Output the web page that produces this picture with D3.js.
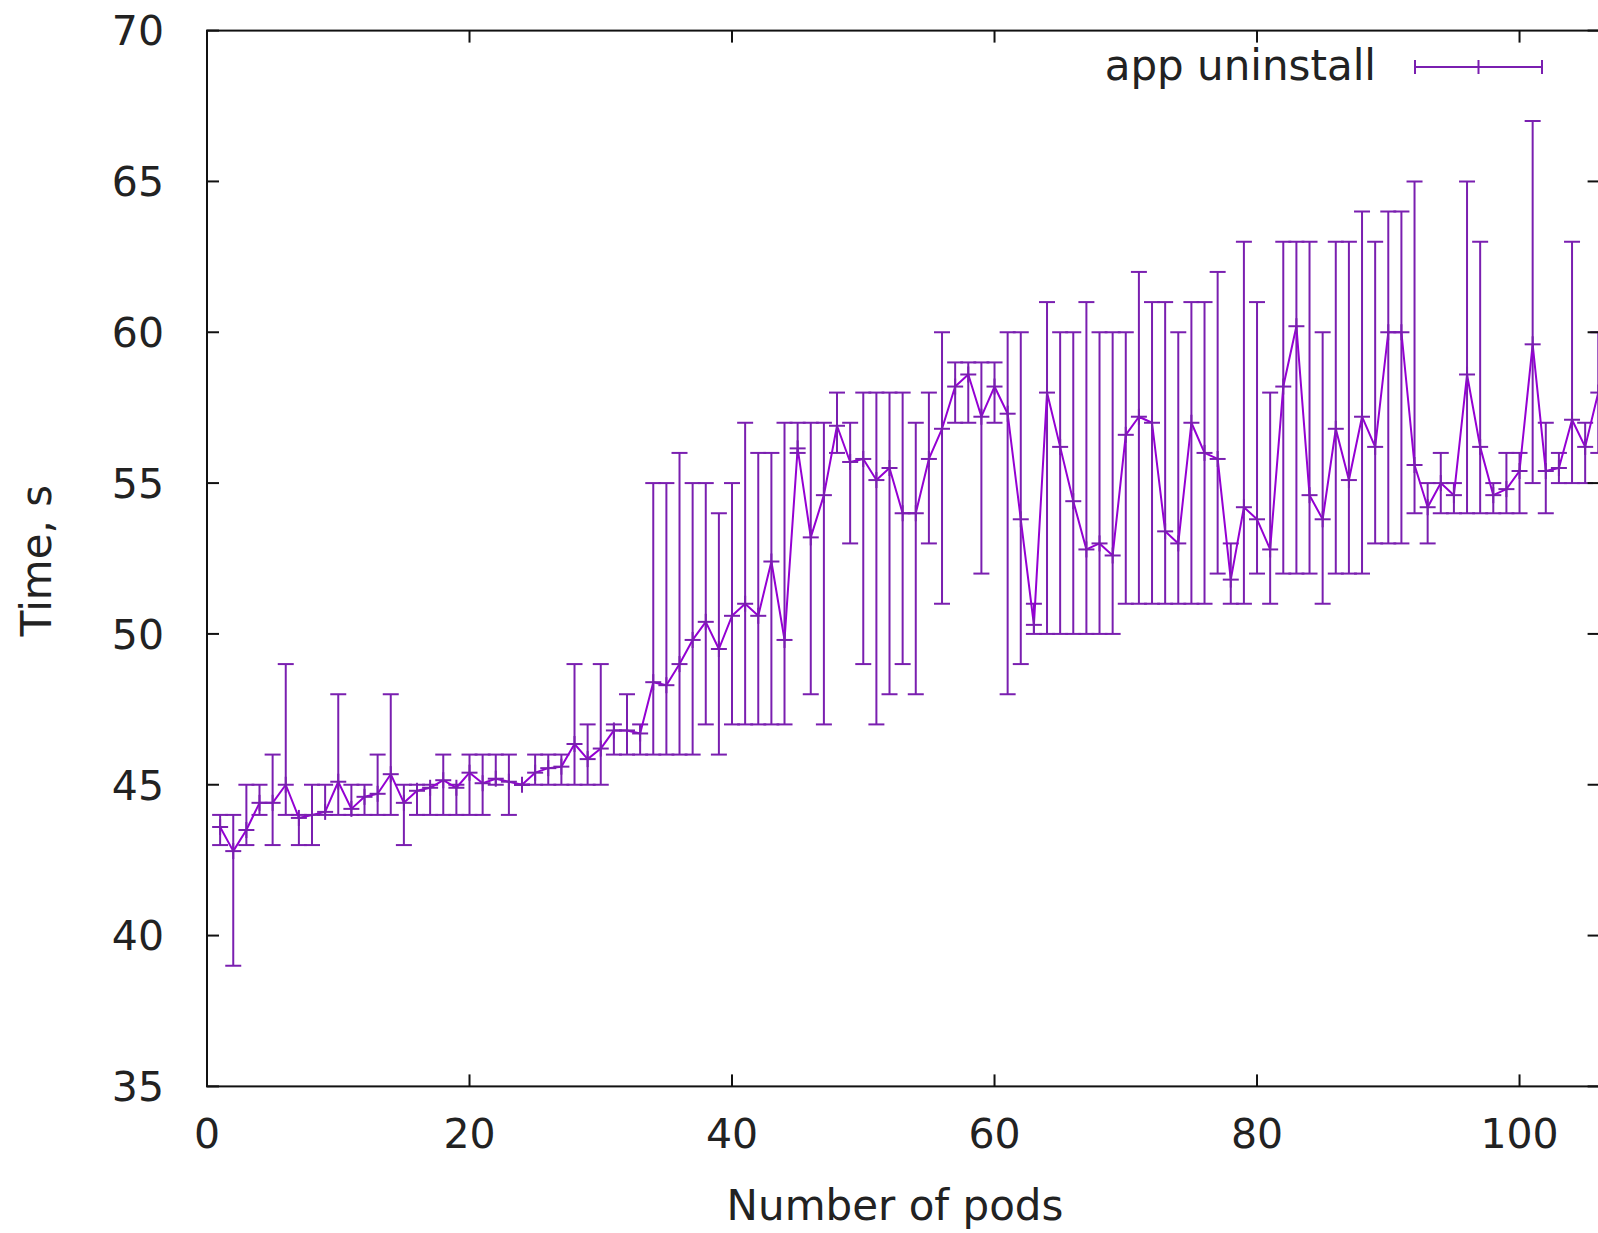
<!DOCTYPE html>
<html>
<head>
<meta charset="utf-8">
<script src="https://cdn.jsdelivr.net/npm/d3@7"></script>
<style>
  html, body { margin: 0; padding: 0; background: #fff; }
  svg { display: block; }
  text { font-family: "DejaVu Sans", sans-serif; fill: #222; }
</style>
</head>
<body>
<script>
// ---- data ----
const pods = [1,2,3,4,5,6,7,8,9,10,11,12,13,14,15,16,17,18,19,20,21,22,23,24,25,26,27,28,29,30,
  31,32,33,34,35,36,37,38,39,40,41,42,43,44,45,46,47,48,49,50,51,52,53,54,55,56,57,58,59,60,
  61,62,63,64,65,66,67,68,69,70,71,72,73,74,75,76,77,78,79,80,81,82,83,84,85,86,87,88,89,90,
  91,92,93,94,95,96,97,98,99,100,101,102,103,104,105,106];
const meanTime = [43.6,42.8,43.5,44.4,44.4,45.0,43.9,44.0,44.1,45.1,44.2,44.6,44.7,45.35,44.4,44.8,44.9,45.15,44.9,45.4,
  45.05,45.2,45.1,45.0,45.4,45.55,45.6,46.35,45.85,46.2,46.8,46.8,46.7,48.4,48.3,49.0,49.8,50.4,49.5,50.6,
  51.0,50.6,52.4,49.8,56.15,53.2,54.6,56.9,55.7,55.8,55.1,55.5,54.0,54.0,55.8,56.8,58.2,58.6,57.2,58.2,
  57.3,53.8,50.3,58.0,56.2,54.4,52.8,53.0,52.6,56.6,57.2,57.0,53.4,53.0,57.0,56.0,55.8,51.8,54.2,53.8,
  52.8,58.2,60.2,54.6,53.8,56.8,55.1,57.2,56.2,60.0,60.0,55.6,54.2,55.0,54.6,58.6,56.2,54.6,54.8,55.4,
  59.6,55.4,55.5,57.1,56.2,58.0];
const minTime = [43,39,43,44,43,44,43,43,44,44,44,44,44,44,43,44,44,44,44,44,
  44,45,44,45,45,45,45,45,45,45,46,46,46,46,46,46,46,47,46,47,
  47,47,47,47,56,48,47,56,53,49,47,48,49,48,53,51,57,57,52,57,
  48,49,50,50,50,50,50,50,50,51,51,51,51,51,51,51,52,51,51,52,
  51,52,52,52,51,52,52,52,53,53,53,54,53,54,54,54,54,54,54,54,
  55,54,55,55,55,56];
const maxTime = [44,44,45,45,46,49,44,45,45,48,45,45,46,48,45,45,45,46,45,46,
  46,46,46,45,46,46,46,49,47,49,47,48,47,55,55,56,55,55,54,55,
  57,56,56,57,57,57,57,58,57,58,58,58,58,57,58,60,59,59,59,59,
  60,60,51,61,60,60,61,60,60,60,62,61,61,60,61,61,62,53,63,61,
  58,63,63,63,60,63,63,64,63,64,64,65,55,56,55,65,63,55,56,56,
  67,57,56,63,57,60];
const yTicks = [35,40,45,50,55,60,65,70];
const xTicks = [0,20,40,60,80,100];
const seriesName = "app uninstall";
const xTitle = "Number of pods";
const yTitle = "Time, s";

(function () {
// ---- layout ----
const W = 1598, H = 1233;
const pL = 207, pR = 1599.6, pT = 30.6, pB = 1086.4;
const lineColor = "#9400d3";
const barColor = "#7a1fb0";

const data = pods.map((p, i) => ({ x: p, m: meanTime[i], lo: minTime[i], hi: maxTime[i] }));

const x = d3.scaleLinear().domain([0, 106.1]).range([pL, pR]);
const y = d3.scaleLinear().domain([35, 70]).range([pB, pT]);

const svg = d3.select("body").append("svg")
  .attr("width", W).attr("height", H)
  .attr("viewBox", `0 0 ${W} ${H}`);
svg.append("rect").attr("width", W).attr("height", H).attr("fill", "#fff");

svg.append("clipPath").attr("id", "plotclip")
  .append("rect").attr("x", pL).attr("y", pT).attr("width", pR - pL).attr("height", pB - pT);

const marks = svg.append("g").attr("clip-path", "url(#plotclip)");

// error bars
const capW = 8;
const eb = marks.append("g").attr("stroke", barColor).attr("stroke-width", 2).attr("fill", "none");
eb.selectAll("line.v").data(data).join("line").attr("class", "v")
  .attr("x1", d => x(d.x)).attr("x2", d => x(d.x))
  .attr("y1", d => y(d.lo)).attr("y2", d => y(d.hi));
eb.selectAll("line.t").data(data).join("line").attr("class", "t")
  .attr("x1", d => x(d.x) - capW).attr("x2", d => x(d.x) + capW)
  .attr("y1", d => y(d.hi)).attr("y2", d => y(d.hi));
eb.selectAll("line.b").data(data).join("line").attr("class", "b")
  .attr("x1", d => x(d.x) - capW).attr("x2", d => x(d.x) + capW)
  .attr("y1", d => y(d.lo)).attr("y2", d => y(d.lo));

// mean line
const line = d3.line().x(d => x(d.x)).y(d => y(d.m));
marks.append("path").datum(data)
  .attr("d", line).attr("fill", "none")
  .attr("stroke", lineColor).attr("stroke-width", 2).attr("stroke-linejoin", "round");

// point markers (+)
const pm = marks.append("g").attr("stroke", barColor).attr("stroke-width", 2);
pm.selectAll("line.h").data(data).join("line").attr("class", "h")
  .attr("x1", d => x(d.x) - capW).attr("x2", d => x(d.x) + capW)
  .attr("y1", d => y(d.m)).attr("y2", d => y(d.m));
pm.selectAll("line.vv").data(data).join("line").attr("class", "vv")
  .attr("x1", d => x(d.x)).attr("x2", d => x(d.x))
  .attr("y1", d => y(d.m) - capW).attr("y2", d => y(d.m) + capW);

// ---- axes (gnuplot style: inward ticks on all sides) ----
const tickLen = 12;
const axisColor = "#111";
const ax = svg.append("g").attr("stroke", axisColor).attr("stroke-width", 2);
ax.selectAll("line.yl").data(yTicks).join("line").attr("class", "yl")
  .attr("x1", pL).attr("x2", pL + tickLen).attr("y1", d => y(d)).attr("y2", d => y(d));
ax.selectAll("line.yr").data(yTicks).join("line").attr("class", "yr")
  .attr("x1", pR - tickLen).attr("x2", pR).attr("y1", d => y(d)).attr("y2", d => y(d));
ax.selectAll("line.xb").data(xTicks).join("line").attr("class", "xb")
  .attr("x1", d => x(d)).attr("x2", d => x(d)).attr("y1", pB).attr("y2", pB - tickLen);
ax.selectAll("line.xt").data(xTicks).join("line").attr("class", "xt")
  .attr("x1", d => x(d)).attr("x2", d => x(d)).attr("y1", pT).attr("y2", pT + tickLen);
ax.append("rect").attr("x", pL).attr("y", pT)
  .attr("width", pR - pL).attr("height", pB - pT).attr("fill", "none");

// tick labels
const fsTick = 41, fsTitle = 42;
svg.append("g").selectAll("text").data(yTicks).join("text")
  .attr("x", pL - 43).attr("y", d => y(d)).attr("dy", "0.36em")
  .attr("text-anchor", "end").attr("font-size", fsTick).text(d => d);
svg.append("g").selectAll("text").data(xTicks).join("text")
  .attr("x", d => x(d)).attr("y", 1133).attr("dy", "0.36em")
  .attr("text-anchor", "middle").attr("font-size", fsTick).text(d => d);

// titles
svg.append("text").attr("x", 895).attr("y", 1205).attr("dy", "0.36em")
  .attr("text-anchor", "middle").attr("font-size", fsTitle).text(xTitle);
svg.append("text").attr("transform", `translate(36,${(pT + pB) / 2 + 2}) rotate(-90)`)
  .attr("dy", "0.36em").attr("text-anchor", "middle").attr("font-size", fsTitle).text(yTitle);

// legend
const lg = svg.append("g");
lg.append("text").attr("x", 1376).attr("y", 65).attr("dy", "0.36em")
  .attr("text-anchor", "end").attr("font-size", fsTitle).text(seriesName);
const ly = 67, lx1 = 1415, lx2 = 1542;
const lgl = lg.append("g").attr("stroke", barColor).attr("stroke-width", 2);
lgl.append("line").attr("x1", lx1).attr("x2", lx2).attr("y1", ly).attr("y2", ly);
lgl.append("line").attr("x1", lx1).attr("x2", lx1).attr("y1", ly - 7).attr("y2", ly + 7);
lgl.append("line").attr("x1", lx2).attr("x2", lx2).attr("y1", ly - 7).attr("y2", ly + 7);
lgl.append("line").attr("x1", (lx1 + lx2) / 2).attr("x2", (lx1 + lx2) / 2).attr("y1", ly - 7).attr("y2", ly + 7);
})();
</script>
</body>
</html>
